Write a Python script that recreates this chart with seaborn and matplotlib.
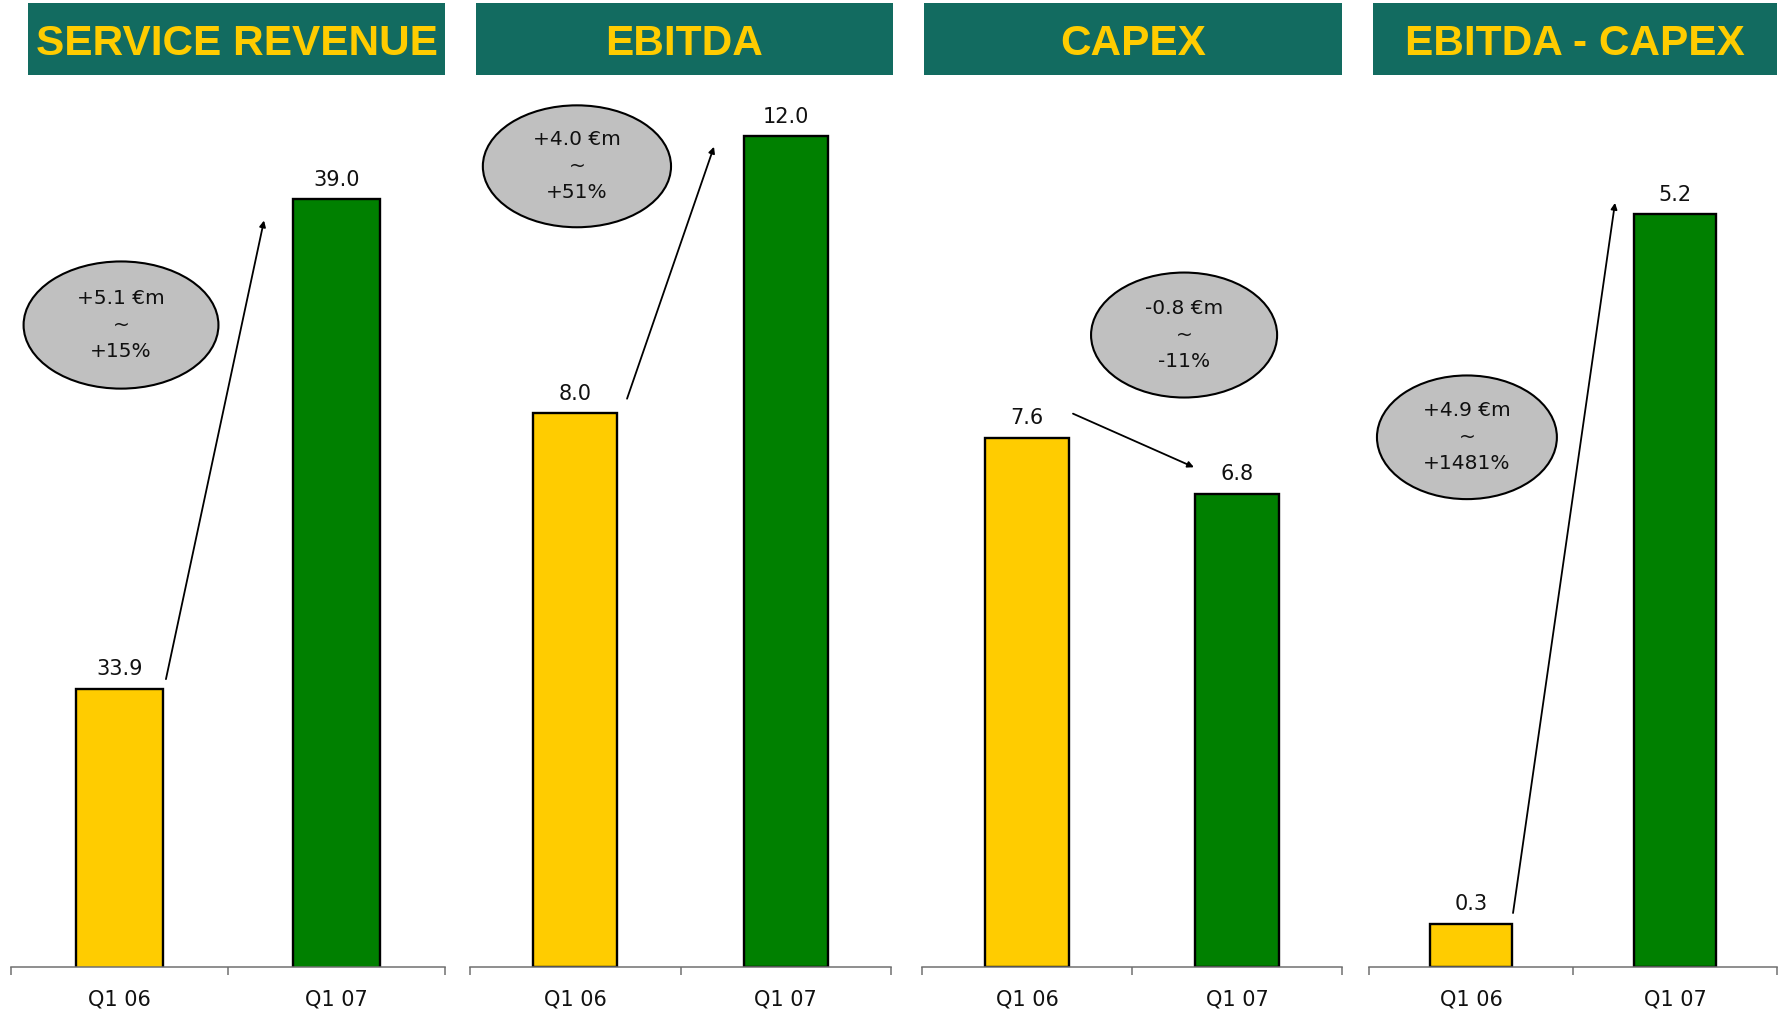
"""
Q1 06 vs Q1 07 - four KPI bar panels (service revenue, EBITDA, capex, EBITDA - capex).
"""

import matplotlib.pyplot as plt
import matplotlib.patches as mpatches
import pandas as pd
import seaborn as sns

# ---------------------------------------------------------------------------
# Data
# ---------------------------------------------------------------------------
PERIODS = ["Q1 06", "Q1 07"]
TITLES = ["SERVICE REVENUE", "EBITDA", "CAPEX", "EBITDA - CAPEX"]

SERVICE_REVENUE = [33.9, 39.0]
EBITDA = [8.0, 12.0]
CAPEX = [7.6, 6.8]
EBITDA_MINUS_CAPEX = [0.3, 5.2]

DELTA_ABS = ["+5.1 €m", "+4.0 €m", "-0.8 €m", "+4.9 €m"]
DELTA_PCT = ["+15%", "+51%", "-11%", "+1481%"]

SERIES = [SERVICE_REVENUE, EBITDA, CAPEX, EBITDA_MINUS_CAPEX]

# ---------------------------------------------------------------------------
# Style
# ---------------------------------------------------------------------------
YELLOW = "#FFCC00"
GREEN = "#008000"
TEAL = "#126B60"
GREY = "#C0C0C0"

sns.set_theme(style="white")
plt.rcParams["font.family"] = ["DejaVu Sans"]

W, H = 1778, 1010
AX_BOTTOM, AX_TOP = 967, 90  # pixel rows (from top)

# per-panel layout: axes x-range (px), ylim, title box x-range (px),
# ellipse centre/size (axes fraction), arrow (data coords)
LAYOUT = [
    dict(ax_x=(11, 445), ylim=(31, 40.14), box_x=(28, 445),
         ell=(0.2535, 0.732, 0.449, 0.145),
         arrow=(0.214, 34.0, 0.666, 38.78)),
    dict(ax_x=(470, 891), ylim=(0, 12.67), box_x=(476, 893),
         ell=(0.254, 0.913, 0.447, 0.139),
         arrow=(0.246, 8.21, 0.659, 11.85)),
    dict(ax_x=(922, 1342), ylim=(0, 12.6), box_x=(924, 1342),
         ell=(0.624, 0.7206, 0.443, 0.1425),
         arrow=(0.219, 7.95, 0.795, 7.18)),
    dict(ax_x=(1369, 1777), ylim=(0, 6.06), box_x=(1373, 1777),
         ell=(0.240, 0.604, 0.441, 0.141),
         arrow=(0.206, 0.373, 0.706, 5.28)),
]


def painel(fig, valores, titulo, delta_abs, delta_pct, lay):
    x0, x1 = lay["ax_x"]
    rect = [x0 / W, (H - AX_BOTTOM) / H, (x1 - x0) / W, (AX_BOTTOM - AX_TOP) / H]
    ax = fig.add_axes(rect)

    df = pd.DataFrame({"periodo": PERIODS, "valor": valores})
    sns.barplot(
        data=df, x="periodo", y="valor", hue="periodo",
        palette=[YELLOW, GREEN], legend=False, width=0.4,
        edgecolor="black", linewidth=1.7, saturation=1, ax=ax,
    )
    for cont in ax.containers:
        ax.bar_label(cont, fmt="%.1f", padding=7, fontsize=15, color="#111111")

    ax.set_xlim(-0.5, 1.5)
    ax.set_ylim(*lay["ylim"])
    ax.set_xlabel("")
    ax.set_ylabel("")
    ax.set_yticks([])
    for s in ["left", "top", "right"]:
        ax.spines[s].set_visible(False)
    ax.spines["bottom"].set_color("#707070")
    ax.spines["bottom"].set_linewidth(1.1)
    ax.set_xticks([-0.5, 0.5, 1.5], minor=True)
    ax.tick_params(axis="x", which="minor", direction="out", length=6,
                   width=1.1, color="#707070", bottom=True)
    ax.tick_params(axis="x", which="major", length=0, pad=16, labelsize=15,
                   labelcolor="#111111")
    ax.patch.set_alpha(0)

    # elipse com a variação
    cx, cy, ew, eh = lay["ell"]
    ax.add_patch(mpatches.Ellipse((cx, cy), ew, eh, transform=ax.transAxes,
                                  facecolor=GREY, edgecolor="black", lw=1.5,
                                  zorder=5, clip_on=False))
    ax.text(cx, cy, f"{delta_abs}\n~\n{delta_pct}", transform=ax.transAxes,
            ha="center", va="center", fontsize=14.5, linespacing=1.5,
            color="#111111", zorder=6)

    # seta
    ax0, ay0, ax1, ay1 = lay["arrow"]
    ax.annotate("", xy=(ax1, ay1), xytext=(ax0, ay0),
                arrowprops=dict(arrowstyle="-|>", color="black", lw=1.3,
                                mutation_scale=9, shrinkA=0, shrinkB=0),
                annotation_clip=False)

    # caixa do título
    bx0, bx1 = lay["box_x"]
    fig.patches.append(mpatches.Rectangle(
        (bx0 / W, (H - 75) / H), (bx1 - bx0) / W, 72 / H,
        transform=fig.transFigure, facecolor=TEAL, edgecolor="none"))
    fig.text((bx0 + bx1) / 2 / W, (H - 44) / H, titulo, ha="center", va="center",
             fontsize=30.5, fontweight="bold", color=YELLOW,
             family=["Liberation Sans", "DejaVu Sans"])
    return ax


fig = plt.figure(figsize=(W / 100, H / 100), dpi=100, facecolor="white")
for valores, titulo, d_abs, d_pct, lay in zip(SERIES, TITLES, DELTA_ABS, DELTA_PCT, LAYOUT):
    painel(fig, valores, titulo, d_abs, d_pct, lay)

fig.savefig("out.png", dpi=100, facecolor="white")
